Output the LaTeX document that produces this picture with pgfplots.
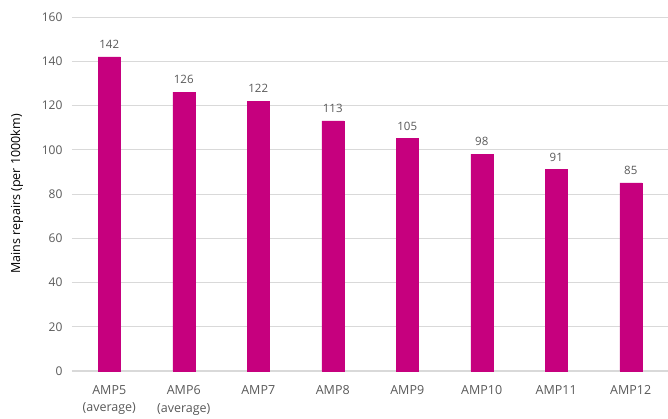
\documentclass[border=0pt]{standalone}
\usepackage{pgfplots}
\pgfplotsset{compat=1.18}
\usepackage{fontspec}
\setmainfont{Open Sans}
\definecolor{barc}{HTML}{C6007E}
\definecolor{txt}{HTML}{595959}
\definecolor{gridc}{HTML}{D9D9D9}
\begin{document}
\begin{tikzpicture}
\begin{axis}[
  name=ax,
  scale only axis,
  width=596pt, height=354pt,
  xmin=-0.5, xmax=7.5,
  ymin=0, ymax=160,
  ytick={0,20,...,160},
  xtick=data,
  xticklabels={{AMP5\\(average)},{AMP6\\(average)},AMP7,AMP8,AMP9,AMP10,AMP11,AMP12},
  xticklabel style={align=center, font=\fontsize{12.5}{17.5}\selectfont, text=txt, anchor=north, yshift=-11pt},
  yticklabel style={font=\fontsize{12}{14}\selectfont, text=txt, xshift=-6pt},
  /pgf/number format/assume math mode=true,
  ylabel={Mains repairs (per 1000km)},
  ylabel style={font=\fontsize{12.5}{14}\selectfont, text=black, at={(ticklabel cs:0.5)}, anchor=south, yshift=12pt},
  ymajorgrids,
  grid style={gridc, line width=0.8pt},
  axis line style={draw=none},
  extra y ticks={0},
  extra y tick labels={},
  extra y tick style={grid style={draw=gridc, line width=1.1pt}},
  major tick length=0pt,
  ybar,
  bar width=22pt,
  nodes near coords,
  nodes near coords style={font=\fontsize{11.5}{13}\selectfont, text=txt, yshift=5pt},
  clip=false,
]
\addplot[fill=barc, draw=barc] coordinates {(0,142) (1,126) (2,122) (3,113) (4,105) (5,98) (6,91) (7,85)};
\end{axis}
\pgfresetboundingbox
\path ([xshift=-72pt,yshift=-47pt]ax.south west) rectangle ([yshift=17pt]ax.north east);
\end{tikzpicture}
\end{document}
